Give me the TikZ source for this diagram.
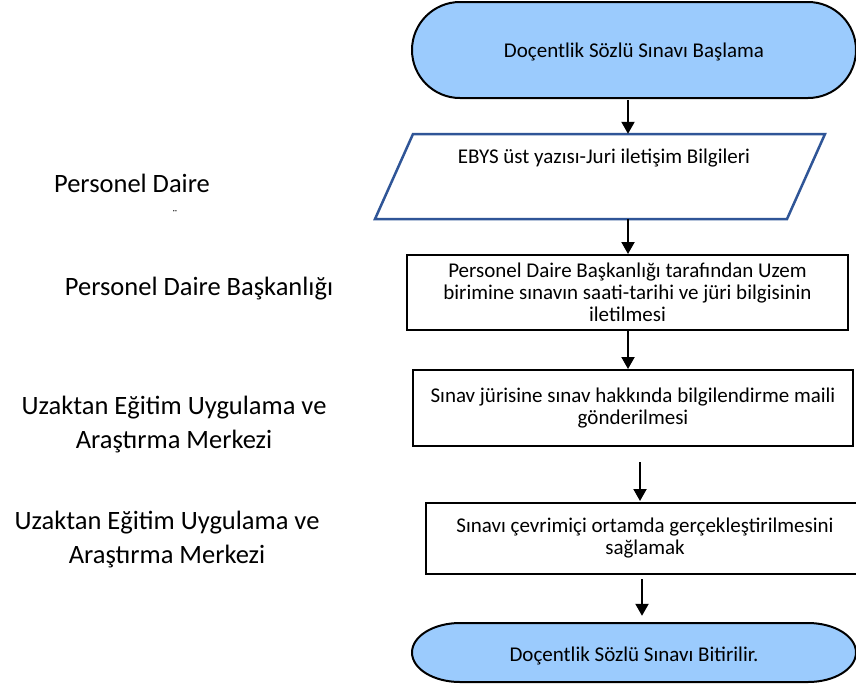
\documentclass[tikz,border=0pt]{standalone}
\usepackage{fontspec}
\setmainfont{Carlito}
\usetikzlibrary{arrows.meta}
\definecolor{termfill}{RGB}{155,203,253}
\definecolor{parablue}{RGB}{47,85,151}
\begin{document}
\begin{tikzpicture}[x=1pt,y=-1pt,
  boxtext/.style={font=\fontsize{21}{22}\selectfont, align=center, inner sep=0pt},
  lbl/.style={font=\fontsize{26.5}{34}\selectfont, align=center, inner sep=0pt},
  procbox/.style={draw=black, line width=2pt, fill=white, boxtext},
  termshape/.style={draw=black, line width=2pt, fill=termfill},
  parashape/.style={draw=parablue, line width=2.5pt, fill=white},
  arr/.style={line width=2pt, -{Triangle[width=13pt,length=12pt]}}
]
\useasboundingbox (0,0) rectangle (856,686);
\fill[white] (0,0) rectangle (856,686);

% start terminator
\draw[termshape] (460,2) -- (808,2) .. controls (834.5,2) and (856,23.5) .. (856,50)
  .. controls (856,76.5) and (834.5,98) .. (808,98) -- (460,98)
  .. controls (433.5,98) and (412,76.5) .. (412,50)
  .. controls (412,23.5) and (433.5,2) .. (460,2) -- cycle;
\node[boxtext, minimum width=444pt, minimum height=96pt] (start) at (634,52) {Doçentlik Sözlü Sınavı Başlama};

% parallelogram
\draw[parashape] (413,134) -- (825,134) -- (787,219) -- (375,219) -- cycle;
\node[inner sep=0pt, minimum width=412pt, minimum height=85pt] (para) at (600,176.5) {};
\node[boxtext] (paratxt) at (604,158) {EBYS üst yazısı-Juri iletişim Bilgileri};

% process boxes
\node[procbox, minimum width=441pt, minimum height=75pt] (box3) at (627.5,292.5)
  {Personel Daire Başkanlığı tarafından Uzem\\birimine sınavın saati-tarihi ve jüri bilgisinin\\iletilmesi};
\node[procbox, minimum width=440pt, minimum height=76pt] (box4) at (633,408)
  {Sınav jürisine sınav hakkında bilgilendirme maili\\gönderilmesi};
\node[procbox, minimum width=438pt, minimum height=71pt] (box5) at (645,538.5)
  {Sınavı çevrimiçi ortamda gerçekleştirilmesini\\sağlamak};

% end terminator
\draw[termshape] (460,623) -- (808,623) .. controls (834.5,623) and (856,636.2) .. (856,652.5)
  .. controls (856,668.8) and (834.5,682) .. (808,682) -- (460,682)
  .. controls (433.5,682) and (412,668.8) .. (412,652.5)
  .. controls (412,636.2) and (433.5,623) .. (460,623) -- cycle;
\node[boxtext, minimum width=444pt, minimum height=59pt] (endt) at (634,656) {Doçentlik Sözlü Sınavı Bitirilir.};

% arrow x positions
\coordinate (ax1) at (628,0);
\coordinate (ax4) at (640,0);
\coordinate (ax5) at (642,0);
\coordinate (a4s) at (640,462);
\coordinate (a5s) at (642,579);

\draw[arr] (start.south -| ax1) -- (para.north -| ax1);
\draw[arr] (para.south -| ax1) -- (box3.north -| ax1);
\draw[arr] (box3.south -| ax1) -- (box4.north -| ax1);
\draw[arr, shorten >=1pt] (a4s) -- (box5.north -| ax4);
\draw[arr, shorten >=10.5pt] (a5s) -- (endt.north -| ax5);

% left labels
\node[lbl, anchor=base] (l1) at (132,192) {Personel Daire};
\node[font=\fontsize{12}{12}\selectfont, inner sep=0pt, anchor=base] (l1b) at (175,218) {¨};
\node[lbl, anchor=base] (l2) at (199,295) {Personel Daire Başkanlığı};
\node[lbl, anchor=base] (l3) at (174,448) {Uzaktan Eğitim Uygulama ve\\Araştırma Merkezi};
\node[lbl, anchor=base] (l4) at (167,563) {Uzaktan Eğitim Uygulama ve\\Araştırma Merkezi};
\end{tikzpicture}
\end{document}
